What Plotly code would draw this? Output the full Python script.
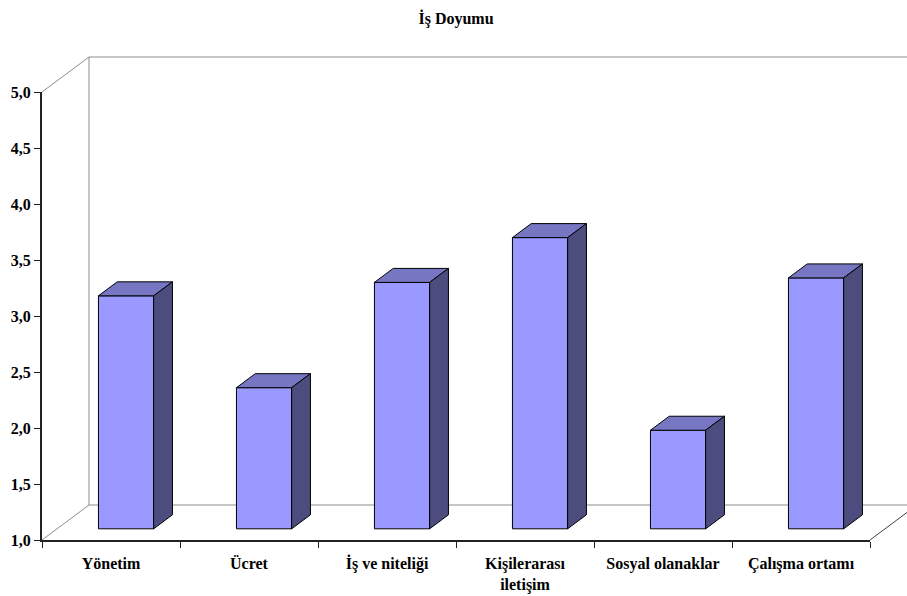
import plotly.graph_objects as go

# ---- data -------------------------------------------------------------
categories = ["Yönetim", "Ücret", "İş ve niteliği", "Kişilerarası<br>iletişim",
              "Sosyal olanaklar", "Çalışma ortamı"]
scores = [3.08, 2.26, 3.20, 3.60, 1.88, 3.24]
y_ticks = [1.0, 1.5, 2.0, 2.5, 3.0, 3.5, 4.0, 4.5, 5.0]

# ---- axis extents and pseudo-3D geometry ------------------------------
y_min, y_max = 1.0, 5.0
x_min, x_max = -0.5, len(categories) - 0.5

# oblique depth of the floor, as fractions of each axis domain
depth_x = 47 / 828
depth_y = 35 / 448
bar_front, bar_back = 0.32, 0.72   # where the columns sit inside the depth
bar_width = 0.4

dx = depth_x * (x_max - x_min)
dy = depth_y * (y_max - y_min)

FRONT = "#9999FF"
TOP = "#7676C2"
SIDE = "#4C4C7E"
FRAME = "#8C8C8C"
FONT = "Liberation Serif"

fig = go.Figure()

# front faces of the columns
fig.add_trace(go.Bar(
    x=categories,
    y=[s - y_min for s in scores],
    base=[y_min + bar_front * dy] * len(scores),
    width=bar_width,
    offset=-bar_width / 2 + bar_front * dx,
    marker=dict(color=FRONT, line=dict(color="black", width=1)),
    hoverinfo="skip",
))

shapes = []

# back wall and floor outline (drawn behind the columns)
def frame_line(x0, y0, x1, y1, color=FRAME):
    shapes.append(dict(type="line", xref="x domain", yref="y domain",
                       x0=x0, y0=y0, x1=x1, y1=y1, layer="below",
                       line=dict(color=color, width=1)))

frame_line(0, 1, depth_x, 1 + depth_y)                       # top-left diagonal
frame_line(depth_x, 1 + depth_y, 1.2, 1 + depth_y)           # wall top edge
frame_line(depth_x, depth_y, depth_x, 1 + depth_y)           # wall left edge
frame_line(0, 0, depth_x, depth_y)                           # floor left diagonal
frame_line(depth_x, depth_y, 1 + depth_x, depth_y)           # floor back edge
frame_line(1, 0, 1 + depth_x, depth_y, color="#404040")      # floor right diagonal

# top and side faces of each column
bdx = (bar_back - bar_front) * dx
bdy = (bar_back - bar_front) * dy
for i, s in enumerate(scores):
    xl = i - bar_width / 2 + bar_front * dx
    xr = xl + bar_width
    top = s + bar_front * dy
    bottom = y_min + bar_front * dy
    shapes.append(dict(
        type="path", xref="x", yref="y", layer="above",
        path=f"M{xl},{top} L{xr},{top} L{xr + bdx},{top + bdy} L{xl + bdx},{top + bdy} Z",
        fillcolor=TOP, line=dict(color="black", width=1)))
    shapes.append(dict(
        type="path", xref="x", yref="y", layer="above",
        path=f"M{xr},{bottom} L{xr},{top} L{xr + bdx},{top + bdy} L{xr + bdx},{bottom + bdy} Z",
        fillcolor=SIDE, line=dict(color="black", width=1)))

fig.update_layout(
    width=907, height=596,
    margin=dict(l=42, r=37, t=92, b=56),
    paper_bgcolor="white", plot_bgcolor="white",
    separators=",.",
    showlegend=False,
    shapes=shapes,
    font=dict(family=FONT, size=16, color="black"),
    title=dict(text="<b>İş Doyumu</b>", x=0.5, xanchor="center",
               xref="paper", y=1 - 18 / 596, yref="container", yanchor="middle",
               font=dict(family=FONT, size=16, color="black")),
    xaxis=dict(
        type="category", range=[x_min, x_max], automargin=False,
        showgrid=False, zeroline=False,
        showline=True, linecolor="#222222", linewidth=2,
        ticks="outside", tickson="boundaries", ticklen=6, tickwidth=1, tickcolor="#222222",
        ticklabelstandoff=8,
        tickfont=dict(family=FONT, size=16, color="black", weight="bold"),
        fixedrange=True,
    ),
    yaxis=dict(
        range=[y_min, y_max], automargin=False,
        tickvals=y_ticks, tickformat=".1f",
        showgrid=False, zeroline=False,
        showline=True, linecolor="#222222", linewidth=2,
        ticks="outside", ticklen=6, tickwidth=1, tickcolor="#222222",
        tickfont=dict(family=FONT, size=16, color="black", weight="bold"),
        fixedrange=True,
    ),
)

fig.write_html("out.html")
